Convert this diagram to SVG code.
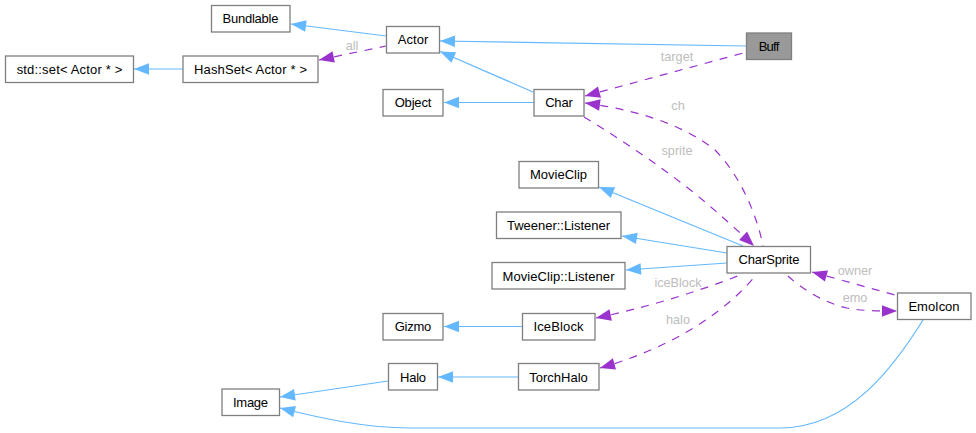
<svg xmlns="http://www.w3.org/2000/svg" width="976" height="433" viewBox="0 0 976 433">
<style>
.n rect{fill:#fff;stroke:#7f7f7f;stroke-width:1.3}
.n text,.l{font-family:"Liberation Sans",Arial,sans-serif;text-anchor:middle}
.n text{font-size:13px;fill:#000}
.l{font-size:12.7px;fill:#bdbdbd}
.i{fill:none;stroke:#63b8ff;stroke-width:1.2;marker-start:url(#b)}
.u{fill:none;stroke:#9a32cd;stroke-width:1.2;stroke-dasharray:8 7.500;marker-start:url(#p)}
.e{marker-start:none;marker-end:url(#pe)}
</style>
<defs>
<marker id="b" markerUnits="userSpaceOnUse" markerWidth="17" markerHeight="14" refX="1" refY="7" orient="auto"><path d="M1 7L16 1.200V12.800Z" fill="#63b8ff"/></marker>
<marker id="p" markerUnits="userSpaceOnUse" markerWidth="17" markerHeight="14" refX="1" refY="7" orient="auto"><path d="M1 7L16 1.200V12.800Z" fill="#9a32cd"/></marker>
<marker id="pe" markerUnits="userSpaceOnUse" markerWidth="17" markerHeight="14" refX="16" refY="7" orient="auto"><path d="M1 1.200L16 7L1 12.800Z" fill="#9a32cd"/></marker>
</defs>
<rect width="976" height="433" fill="#fff"/>
<g id="connectors">
<path class="i" d="M291 24L386 36"/>
<path class="i" d="M440 41L746 46"/>
<path class="i" d="M440 51.500L533 92"/>
<path class="i" d="M134 69H183"/>
<path class="i" d="M444 102.500H534"/>
<path class="i" d="M599 187L743 246"/>
<path class="i" d="M622 236L727 253"/>
<path class="i" d="M626 270L727 263"/>
<path class="i" d="M444 326.500H522"/>
<path class="i" d="M438 377H518"/>
<path class="i" d="M280 397L388 381"/>
<path class="i" d="M280 408C320 418 365 428 410 428H780C850 428 895 365 923 320"/>
<path class="u" d="M319 60L386 46"/>
<text class="l" x="352" y="50">all</text>
<path class="u" d="M585 96L747 52"/>
<text class="l" x="677" y="61">target</text>
<path class="u" d="M585 103C630 109 680 122 715 150C740 175 757 215 763 246"/>
<text class="l" x="678" y="110">ch</text>
<path class="u e" d="M584 117C610 133 650 158 693 192C715 210 735 228 754 246"/>
<text class="l" x="677" y="155">sprite</text>
<path class="u" d="M596 318C640 309 695 293 740 275"/>
<text class="l" x="678" y="287">iceBlock</text>
<path class="u" d="M600 368C650 354 715 325 757 274"/>
<text class="l" x="678" y="324">halo</text>
<path class="u" d="M812 272L895 295"/>
<text class="l" x="855" y="275">owner</text>
<path class="u e" d="M788 276C803 290 825 303 847 308C862 311 880 311 897 311"/>
<text class="l" x="855" y="302">emo</text>
</g>
<g id="Bundlable" class="n"><rect x="211.500" y="5.500" width="78.500" height="26.500"/><text x="250.500" y="23" textLength="56">Bundlable</text></g>
<g id="Actor" class="n"><rect x="386.500" y="26.500" width="53" height="26.500"/><text x="413" y="44" textLength="30.700">Actor</text></g>
<g id="StdSet" class="n"><rect x="5.500" y="56" width="128" height="26.500"/><text x="69.500" y="74" textLength="105.700">std::set&lt; Actor * &gt;</text></g>
<g id="HashSet" class="n"><rect x="183" y="56" width="135" height="26.500"/><text x="250.500" y="74" textLength="113">HashSet&lt; Actor * &gt;</text></g>
<g id="Object" class="n"><rect x="383" y="89.500" width="60" height="26.500"/><text x="413" y="107" textLength="36.700">Object</text></g>
<g id="Char" class="n"><rect x="534" y="89.500" width="50" height="26.500"/><text x="559" y="107" textLength="27.700">Char</text></g>
<g id="Buff" class="n"><rect x="746.500" y="33" width="45" height="26.500" style="fill:#999"/><text x="769" y="50.500" textLength="20.700">Buff</text></g>
<g id="MovieClip" class="n"><rect x="519" y="161.500" width="79.500" height="26.500"/><text x="558.500" y="179" textLength="57">MovieClip</text></g>
<g id="TweenerListener" class="n"><rect x="496.500" y="212" width="124.500" height="26.500"/><text x="558.500" y="230" textLength="103">Tweener::Listener</text></g>
<g id="MovieClipListener" class="n"><rect x="492" y="262.500" width="133" height="26.500"/><text x="558.500" y="280.500" textLength="112">MovieClip::Listener</text></g>
<g id="CharSprite" class="n"><rect x="727" y="246.500" width="83.500" height="26.500"/><text x="769" y="264" textLength="61">CharSprite</text></g>
<g id="EmoIcon" class="n"><rect x="897.500" y="293" width="73.500" height="26.500"/><text x="934" y="311" textLength="51">EmoIcon</text></g>
<g id="Gizmo" class="n"><rect x="383" y="313.500" width="60" height="26.500"/><text x="413" y="331" textLength="36.700">Gizmo</text></g>
<g id="IceBlock" class="n"><rect x="522.500" y="313.500" width="72.500" height="26.500"/><text x="558.500" y="331" textLength="50">IceBlock</text></g>
<g id="Halo" class="n"><rect x="388.500" y="363.500" width="49" height="26.500"/><text x="413" y="381.500" textLength="26">Halo</text></g>
<g id="TorchHalo" class="n"><rect x="518.500" y="363.500" width="80.500" height="26.500"/><text x="558.500" y="381.500" textLength="58.700">TorchHalo</text></g>
<g id="Image" class="n"><rect x="222" y="389" width="57.500" height="26.500"/><text x="250.500" y="407" textLength="35">Image</text></g>
</svg>
